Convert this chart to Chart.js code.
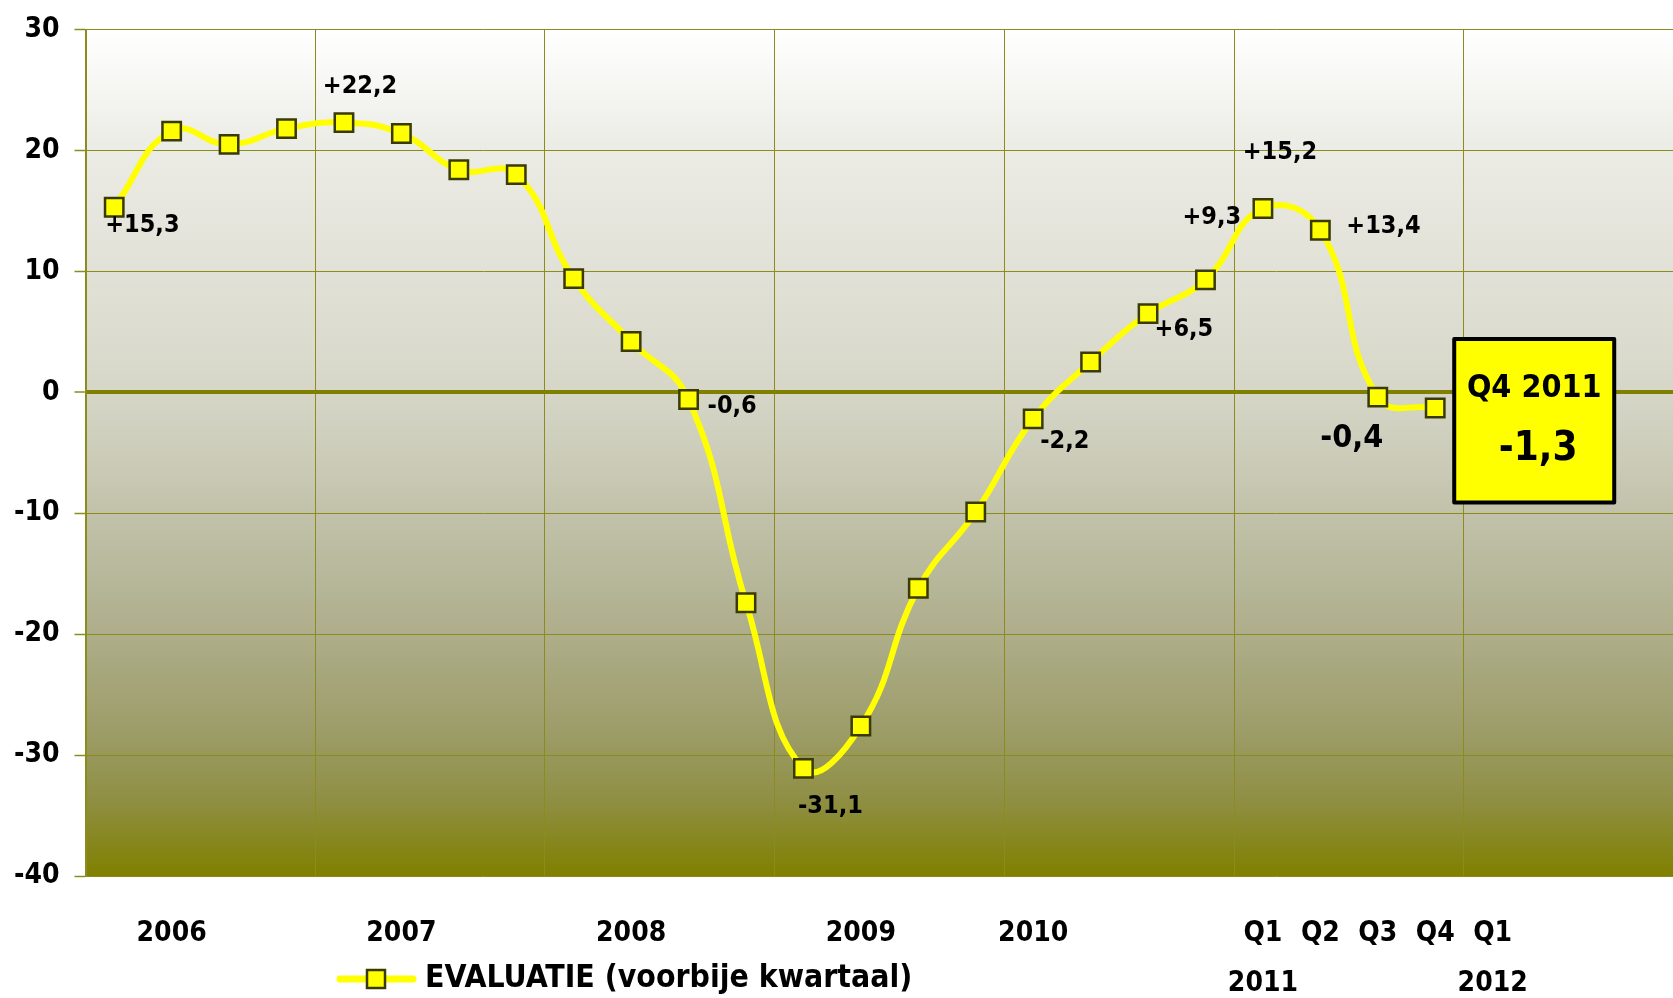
<!DOCTYPE html>
<html><head><meta charset="utf-8">
<script src="https://cdn.jsdelivr.net/npm/chart.js@4.4.1/dist/chart.umd.min.js"></script>
<style>html,body{margin:0;padding:0;background:#fff;overflow:hidden}canvas{display:block}</style>
</head><body>
<canvas id="c" width="1673" height="998"></canvas>
<script>
// ---- data ----
const seriesName = 'EVALUATIE (voorbije kwartaal)';
const values = [15.3, 21.6, 20.5, 21.8, 22.3, 21.4, 18.4, 18.0, 9.4, 4.2, -0.6, -17.4,
                -31.1, -27.6, -16.2, -9.9, -2.2, 2.5, 6.5, 9.3, 15.2, 13.4, -0.4, -1.3];
const pointLabels = ['+15,3', null, null, null, '+22,2', null, null, null, null, null, '-0,6', null,
                     '-31,1', null, null, null, '-2,2', null, '+6,5', '+9,3', '+15,2', '+13,4', '-0,4', null];
const xLabelPositions = [1, 5, 9, 13, 16, 20, 21, 22, 23, 24];
const xLabelTexts = ['2006', '2007', '2008', '2009', '2010', ['Q1', '2011'], 'Q2', 'Q3', 'Q4', ['Q1', '2012']];
const yearBoundaries = [-0.5, 3.5, 7.5, 11.5, 15.5, 19.5, 23.5];
const highlightIndex = 23;
const highlightTitle = 'Q4 2011';
const highlightValue = '-1,3';

// ---- styling ----
const FONT = '"DejaVu Sans Condensed", "DejaVu Sans", sans-serif';
const GRID = '#8c8c1c';
const ZERO = '#808000';
const X_MIN = -0.5, X_MAX = 27.14;
const labelStyle = {
  0:  {dx: -9, dy: 18, align: 'left'},
  4:  {dx: 16, dy: -36, align: 'center'},
  10: {dx: 19, dy: 7, align: 'left'},
  12: {dx: 27, dy: 38, align: 'center'},
  16: {dx: 7, dy: 23, align: 'left'},
  18: {dx: 6.5, dy: 16, align: 'left'},
  19: {dx: 35.6, dy: -62, align: 'right'},
  20: {dx: 17, dy: -56, align: 'center'},
  21: {dx: 26, dy: -4, align: 'left'},
  22: {dx: -26, dy: 42, align: 'center', size: 32}
};

const points = values.map((v, i) => ({x: i, y: v}));
const xTickValues = [...new Set([...yearBoundaries, ...xLabelPositions])].sort((a, b) => a - b);
function xLabelFor(v) {
  const k = xLabelPositions.indexOf(v);
  return k >= 0 ? xLabelTexts[k] : '';
}

const bgPlugin = {
  id: 'bg',
  beforeDraw(chart) {
    const {ctx, chartArea: a} = chart;
    ctx.save();
    ctx.fillStyle = '#ffffff';
    ctx.fillRect(0, 0, chart.width, chart.height);
    const g = ctx.createLinearGradient(0, a.top, 0, a.bottom);
    g.addColorStop(0, '#ffffff');
    g.addColorStop(0.14, '#ececE6');
    g.addColorStop(0.43, '#d6d6c8');
    g.addColorStop(0.67, '#b4b496');
    g.addColorStop(0.82, '#9e9e6c');
    g.addColorStop(0.91, '#8f8f44');
    g.addColorStop(1, '#808000');
    ctx.fillStyle = g;
    ctx.fillRect(a.left, a.top, a.right - a.left, a.bottom - a.top);
    ctx.restore();
  }
};

const labelPlugin = {
  id: 'labels',
  afterDatasetsDraw(chart) {
    const ctx = chart.ctx;
    const meta = chart.getDatasetMeta(0);
    ctx.save();
    ctx.fillStyle = '#000';
    ctx.textBaseline = 'middle';
    pointLabels.forEach((t, i) => {
      if (!t) return;
      const s = labelStyle[i] || {dx: 0, dy: -30, align: 'center'};
      const p = meta.data[i];
      ctx.font = 'bold ' + (s.size || 25) + 'px ' + FONT;
      ctx.textAlign = s.align;
      ctx.fillText(t, p.x + s.dx, p.y + s.dy);
    });
    // highlight box
    const p = meta.data[highlightIndex];
    const L = p.x + 19, R = p.x + 179, T = p.y - 69, B = p.y + 94.5;
    ctx.fillStyle = '#ffff00';
    ctx.fillRect(L, T, R - L, B - T);
    ctx.lineWidth = 4;
    ctx.strokeStyle = '#000';
    ctx.lineJoin = 'round';
    ctx.strokeRect(L, T, R - L, B - T);
    ctx.fillStyle = '#000';
    ctx.textAlign = 'center';
    ctx.font = 'bold 32px ' + FONT;
    ctx.fillText(highlightTitle, (L + R) / 2, p.y - 19);
    ctx.font = 'bold 40px ' + FONT;
    ctx.fillText(highlightValue, (L + R) / 2 + 4, p.y + 42);
    ctx.restore();
  }
};

const legendPlugin = {
  id: 'customLegend',
  afterDraw(chart) {
    const ctx = chart.ctx;
    const y = 979;
    ctx.save();
    ctx.strokeStyle = '#ffff00';
    ctx.lineWidth = 7;
    ctx.lineCap = 'round';
    ctx.beginPath();
    ctx.moveTo(340, y);
    ctx.lineTo(413, y);
    ctx.stroke();
    ctx.fillStyle = '#ffff00';
    ctx.fillRect(367, y - 9, 18, 18);
    ctx.lineWidth = 2.5;
    ctx.strokeStyle = '#3a3a05';
    ctx.strokeRect(367, y - 9, 18, 18);
    ctx.fillStyle = '#000';
    ctx.font = 'bold 31.7px ' + FONT;
    ctx.textAlign = 'left';
    ctx.textBaseline = 'middle';
    ctx.fillText(seriesName, 425, y);
    ctx.restore();
  }
};

new Chart(document.getElementById('c'), {
  type: 'line',
  data: {
    datasets: [{
      label: seriesName,
      data: points,
      borderColor: '#ffff00',
      borderWidth: 6,
      tension: 0.45,
      fill: false,
      pointStyle: 'rect',
      pointRadius: 13,
      pointBackgroundColor: '#ffff00',
      pointBorderColor: '#3a3a05',
      pointBorderWidth: 2.5,
      clip: false
    }]
  },
  options: {
    responsive: false,
    animation: false,
    events: [],
    devicePixelRatio: 1,
    layout: {autoPadding: false, padding: {top: 29.5, left: 0, right: 0, bottom: 0}},
    plugins: {legend: {display: false}, tooltip: {enabled: false}, title: {display: false}},
    scales: {
      x: {
        type: 'linear',
        min: X_MIN,
        max: X_MAX,
        bounds: 'data',
        afterFit: s => { s.height = 122; s.paddingLeft = 0; s.paddingRight = 0; },
        afterBuildTicks: s => { s.ticks = xTickValues.map(v => ({value: v})); },
        ticks: {
          autoSkip: false, maxRotation: 0, minRotation: 0, padding: 33, color: '#000',
          font: {family: FONT, size: 28, weight: 'bold', lineHeight: '50px'},
          callback: v => xLabelFor(v)
        },
        grid: {
          drawTicks: false,
          color: c => (c.tick && yearBoundaries.includes(c.tick.value)) ? GRID : 'rgba(0,0,0,0)',
          lineWidth: 1
        },
        border: {display: false}
      },
      y: {
        min: -40,
        max: 30,
        afterFit: s => { s.width = 85.5; s.paddingTop = 0; s.paddingBottom = 0; },
        ticks: {stepSize: 10, padding: 15, color: '#000', font: {family: FONT, size: 28, weight: 'bold'}},
        grid: {
          color: c => (c.tick && c.tick.value === 0) ? ZERO : GRID,
          lineWidth: c => (c.tick && c.tick.value === 0) ? 4 : 1,
          drawTicks: true, tickLength: 11, tickWidth: 1.5, tickColor: GRID
        },
        border: {display: true, color: GRID, width: 2}
      }
    }
  },
  plugins: [bgPlugin, labelPlugin, legendPlugin]
});
</script>
</body></html>
